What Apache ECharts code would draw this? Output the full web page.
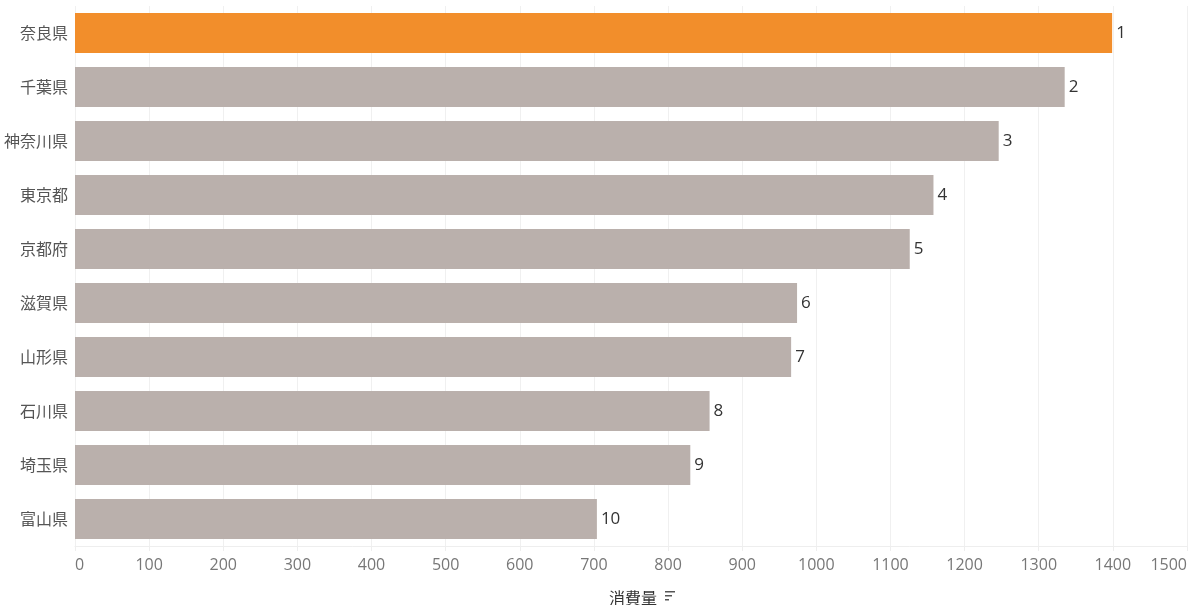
<!DOCTYPE html>
<html><head><meta charset="utf-8">
<script src="https://cdn.jsdelivr.net/npm/echarts@6/dist/echarts.min.js"></script>
<style>html,body{margin:0;padding:0;background:#fff}#c{width:1200px;height:605px}</style>
</head><body><div id="c"></div>
<script>
const categories = ['奈良県','千葉県','神奈川県','東京都','京都府','滋賀県','山形県','石川県','埼玉県','富山県'];
const values = [1399, 1335, 1246, 1158, 1126, 974, 966, 856, 830, 704];
const ranks = ['1','2','3','4','5','6','7','8','9','10'];
const highlightIndex = 0;

const chart = echarts.init(document.getElementById('c'));
const fontFam = '"Noto Sans CJK JP", "Open Sans", sans-serif';
chart.setOption({
  animation: false,
  grid: { left: 75, right: 13, top: 6, height: 540, containLabel: false, outerBoundsMode: 'none' },
  xAxis: {
    type: 'value', min: 0, max: 1500, interval: 100,
    name: '消費量', nameLocation: 'middle', nameGap: 44,
    nameTextStyle: { color: '#333', fontSize: 16, fontFamily: fontFam, padding: [0, 0, 0, 4] },
    axisLine: { show: true, lineStyle: { color: '#eeeeee' } },
    axisTick: { show: true, length: 5, lineStyle: { color: '#eeeeee' } },
    axisLabel: { color: '#777', fontSize: 16, fontFamily: '"Open Sans", sans-serif', margin: 11,
      alignMinLabel: 'left', alignMaxLabel: 'right', formatter: v => String(v) },
    splitLine: { show: true, lineStyle: { color: '#f0f0f0' } }
  },
  yAxis: {
    type: 'category', data: categories, inverse: true,
    axisLine: { show: false }, axisTick: { show: false },
    axisLabel: { color: '#555', fontSize: 16, fontFamily: fontFam, margin: 7 },
    splitLine: { show: false }
  },
  series: [{
    type: 'bar',
    data: values.map((v, i) => ({ value: v, itemStyle: { color: i === highlightIndex ? '#F28E2B' : '#BAB0AC' } })),
    barWidth: 40,
    label: {
      show: true, position: 'right', distance: 4,
      color: '#333', fontSize: 17, fontFamily: '"Open Sans", sans-serif',
      formatter: p => ranks[p.dataIndex]
    }
  }],
  graphic: [
    { type: 'text', x: 0, y: 3, style: { text: 'Pref.', fill: '#333', font: 'bold 17px "Open Sans", sans-serif', verticalAlign: 'bottom', textVerticalAlign: 'bottom' } },
    { type: 'rect', shape: { x: 665, y: 591, width: 10, height: 1.5 }, style: { fill: '#555' } },
    { type: 'rect', shape: { x: 665, y: 595, width: 7, height: 1.5 }, style: { fill: '#555' } },
    { type: 'rect', shape: { x: 665, y: 599, width: 4, height: 1.5 }, style: { fill: '#555' } }
  ]
});
</script></body></html>
